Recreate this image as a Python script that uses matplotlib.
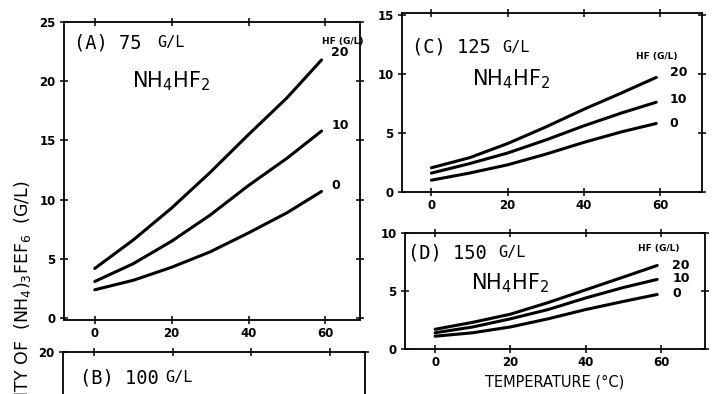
import matplotlib
matplotlib.use("Agg")
import matplotlib.pyplot as plt

# temperature (deg C) at which the curves were read
temp = [0, 10, 20, 30, 40, 50, 59]
hf_levels = ["20", "10", "0"]

# (A) 75 g/L NH4HF2
a_hf20 = [4.2, 6.6, 9.3, 12.3, 15.5, 18.6, 21.8]
a_hf10 = [3.1, 4.6, 6.5, 8.7, 11.2, 13.5, 15.8]
a_hf0 = [2.4, 3.2, 4.3, 5.6, 7.2, 8.9, 10.7]

# (C) 125 g/L NH4HF2
c_hf20 = [2.05, 2.9, 4.1, 5.5, 7.0, 8.4, 9.7]
c_hf10 = [1.6, 2.4, 3.3, 4.4, 5.6, 6.7, 7.6]
c_hf0 = [1.0, 1.6, 2.3, 3.2, 4.2, 5.1, 5.8]

# (D) 150 g/L NH4HF2
d_hf20 = [1.7, 2.3, 3.0, 4.0, 5.1, 6.2, 7.2]
d_hf10 = [1.4, 1.9, 2.6, 3.4, 4.4, 5.3, 6.0]
d_hf0 = [1.1, 1.4, 1.9, 2.6, 3.4, 4.1, 4.7]

xticks = [0, 20, 40, 60]

W, H = 714, 394
plt.rcParams['font.family'] = ['DejaVu Sans']
fig = plt.figure(figsize=(W / 100, H / 100), dpi=100)
MONO = 'DejaVu Sans Mono'


def px_axes(left, top, right, bottom):
	return fig.add_axes([left / W, 1 - bottom / H, (right - left) / W, (bottom - top) / H])


def style(ax, yticks):
	ax.set_xticks(xticks)
	ax.set_yticks(yticks)
	for s in ax.spines.values():
		s.set_linewidth(1.3)
	ax.tick_params(axis='y', left=True, right=True, direction='inout', length=6, width=1.1, pad=3)
	ax.tick_params(axis='x', bottom=True, top=True, direction='inout', length=6, width=1.1, pad=2)
	for lab in ax.get_xticklabels() + ax.get_yticklabels():
		lab.set_fontsize(8.5)
		lab.set_fontweight('bold')


def panel(ax, series, label, tpos, gpos, npos, hfpos, lab_y, lab_x):
	for ys in series:
		ax.plot(temp, ys, color='black', lw=2.2, solid_capstyle='round')
	ax.text(tpos[0], tpos[1], label, transform=ax.transAxes, fontsize=13.5, va='center', family=MONO)
	ax.text(gpos, tpos[1], 'G/L', transform=ax.transAxes, fontsize=11, va='center', family=MONO)
	ax.text(npos[0], npos[1], r'NH$_4$HF$_2$', transform=ax.transAxes, fontsize=15, va='center')
	ax.text(hfpos[0], hfpos[1], 'HF (G/L)', transform=ax.transAxes, fontsize=6.5, va='center', fontweight='bold')
	for lv, yv in zip(hf_levels, lab_y):
		ax.text(lab_x, yv, lv, fontsize=9, va='center', fontweight='bold')


# panel A
axA = px_axes(64, 22, 360, 320)
axA.set_xlim(-8, 69)
axA.set_ylim(-0.15, 25)
style(axA, [0, 5, 10, 15, 20, 25])
panel(axA, [a_hf20, a_hf10, a_hf0], '(A) 75', (0.035, 0.93), 0.315, (0.23, 0.8), (0.87, 0.935),
	[22.4, 16.3, 11.2], 61.5)

# panel C
axC = px_axes(402, 13, 702, 192)
axC.set_xlim(-7.7, 71)
axC.set_ylim(0, 15.15)
style(axC, [0, 5, 10, 15])
panel(axC, [c_hf20, c_hf10, c_hf0], '(C) 125', (0.035, 0.81), 0.335, (0.235, 0.63), (0.78, 0.755),
	[10.1, 7.8, 5.8], 62.5)

# panel D
axD = px_axes(405, 233, 705, 349)
axD.set_xlim(-8, 71.7)
axD.set_ylim(0, 10)
style(axD, [0, 5, 10])
panel(axD, [d_hf20, d_hf10, d_hf0], '(D) 150', (0.01, 0.83), 0.31, (0.22, 0.57), (0.775, 0.87),
	[7.2, 6.1, 4.8], 63)
axD.set_xlabel('TEMPERATURE (°C)', fontsize=10.5, labelpad=4)

# panel B, mostly cut off below the picture
axB = px_axes(63, 352, 365, 640)
axB.set_xlim(-8, 69)
axB.set_ylim(0, 20)
style(axB, [20])
axB.tick_params(axis='x', labelbottom=False)
axB.text(0.055, 0.91, '(B) 100', transform=axB.transAxes, fontsize=13.5, va='center', family=MONO)
axB.text(0.34, 0.91, 'G/L', transform=axB.transAxes, fontsize=11, va='center', family=MONO)

# shared y label, its start runs off the bottom as in the scan
fig.text(23 / W, 1 - 180 / H, r'SOLUBILITY OF  (NH$_4$)$_3$FEF$_6$  (G/L)', rotation=90,
	ha='center', va='top', fontsize=12.5)

fig.savefig('out.png', dpi=100)
